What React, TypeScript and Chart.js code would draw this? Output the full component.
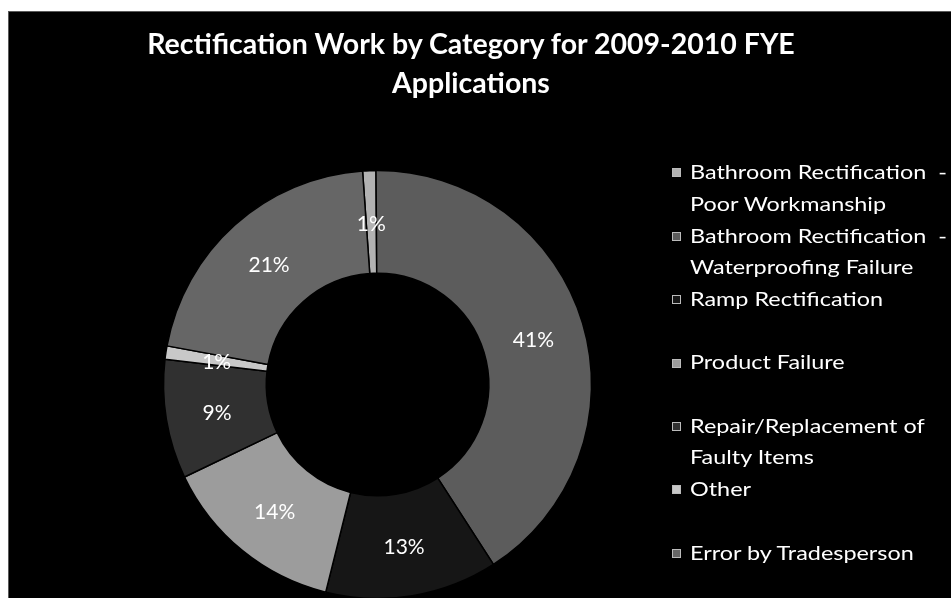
import React, { useEffect, useRef } from "react";
import { Chart, registerables } from "chart.js";

Chart.register(...registerables);

const titleLines = ["Rectification Work by Category for 2009-2010 FYE", "Applications"];

const categories = [
  "Bathroom Rectification  -\nPoor Workmanship",
  "Bathroom Rectification  -\nWaterproofing Failure",
  "Ramp Rectification",
  "Product Failure",
  "Repair/Replacement of\nFaulty Items",
  "Other",
  "Error by Tradesperson",
];

const shares = [1, 41, 13, 14, 9, 1, 21];

const sliceColors = ["#b2b2b2", "#5c5c5c", "#161616", "#9c9c9c", "#303030", "#c8c8c8", "#666666"];

const FONT = "Lato, 'Open Sans', 'Liberation Sans', sans-serif";

const pctLabels = {
  id: "pctLabels",
  afterDatasetsDraw(chart: any) {
    const ctx = chart.ctx;
    const meta = chart.getDatasetMeta(0);
    const data = chart.data.datasets[0].data as number[];
    const total = data.reduce((a, b) => a + b, 0);
    ctx.save();
    ctx.font = `21px ${FONT}`;
    ctx.fillStyle = "#ffffff";
    ctx.textAlign = "center";
    ctx.textBaseline = "middle";
    meta.data.forEach((arc: any, i: number) => {
      const p = arc.tooltipPosition(false);
      ctx.fillText(Math.round((data[i] / total) * 100) + "%", p.x, p.y + 2);
    });
    ctx.restore();
  },
};

export default function App() {
  const canvasRef = useRef<HTMLCanvasElement | null>(null);

  useEffect(() => {
    if (!canvasRef.current) return;
    const chart = new Chart(canvasRef.current, {
      type: "doughnut",
      data: {
        labels: categories,
        datasets: [
          {
            data: shares,
            backgroundColor: sliceColors,
            borderColor: "#000000",
            borderWidth: 1.5,
          },
        ],
      },
      options: {
        animation: false,
        responsive: false,
        radius: 214,
        cutout: "52%",
        rotation: -4,
        layout: { padding: { top: 159, right: 205, bottom: 0, left: 0 } },
        plugins: {
          legend: { display: false },
          tooltip: { enabled: false },
          title: { display: false },
        },
      },
      plugins: [pctLabels],
    } as any);
    return () => chart.destroy();
  }, []);

  const pitch = 63.4;
  const lineH = 31.7;

  return (
    <div
      style={{
        position: "fixed",
        left: 8,
        top: 11,
        width: 943,
        height: 587,
        background: "#000",
        border: "1px solid #5a5a5a",
        borderRight: "none",
        borderBottom: "none",
        boxSizing: "border-box",
        overflow: "hidden",
      }}
    >
      <canvas ref={canvasRef} width={942} height={586} style={{ position: "absolute", left: 0, top: 0 }} />
      <div
        style={{
          position: "absolute",
          left: 0,
          top: 12,
          width: 924,
          textAlign: "center",
          color: "#fff",
          fontFamily: FONT,
          fontWeight: 700,
          fontSize: 28.5,
          lineHeight: "39px",
        }}
      >
        {titleLines.map((t, i) => (
          <div key={i}>{t}</div>
        ))}
      </div>
      {categories.map((c, i) => (
        <div
          key={i}
          style={{
            position: "absolute",
            left: 663,
            top: 160 + i * pitch - lineH / 2,
            display: "flex",
            alignItems: "flex-start",
            color: "#fff",
            fontFamily: FONT,
            fontSize: 20,
            lineHeight: `${lineH}px`,
          }}
        >
          <span
            style={{
              display: "inline-block",
              width: 7,
              height: 7,
              marginTop: (lineH - 7) / 2,
              marginRight: 9,
              background: sliceColors[i],
              border: "1px solid #bbb",
            }}
          />
          <span
            style={{
              whiteSpace: "pre",
              display: "inline-block",
              transform: "scaleX(1.17)",
              transformOrigin: "left center",
            }}
          >
            {c}
          </span>
        </div>
      ))}
    </div>
  );
}
